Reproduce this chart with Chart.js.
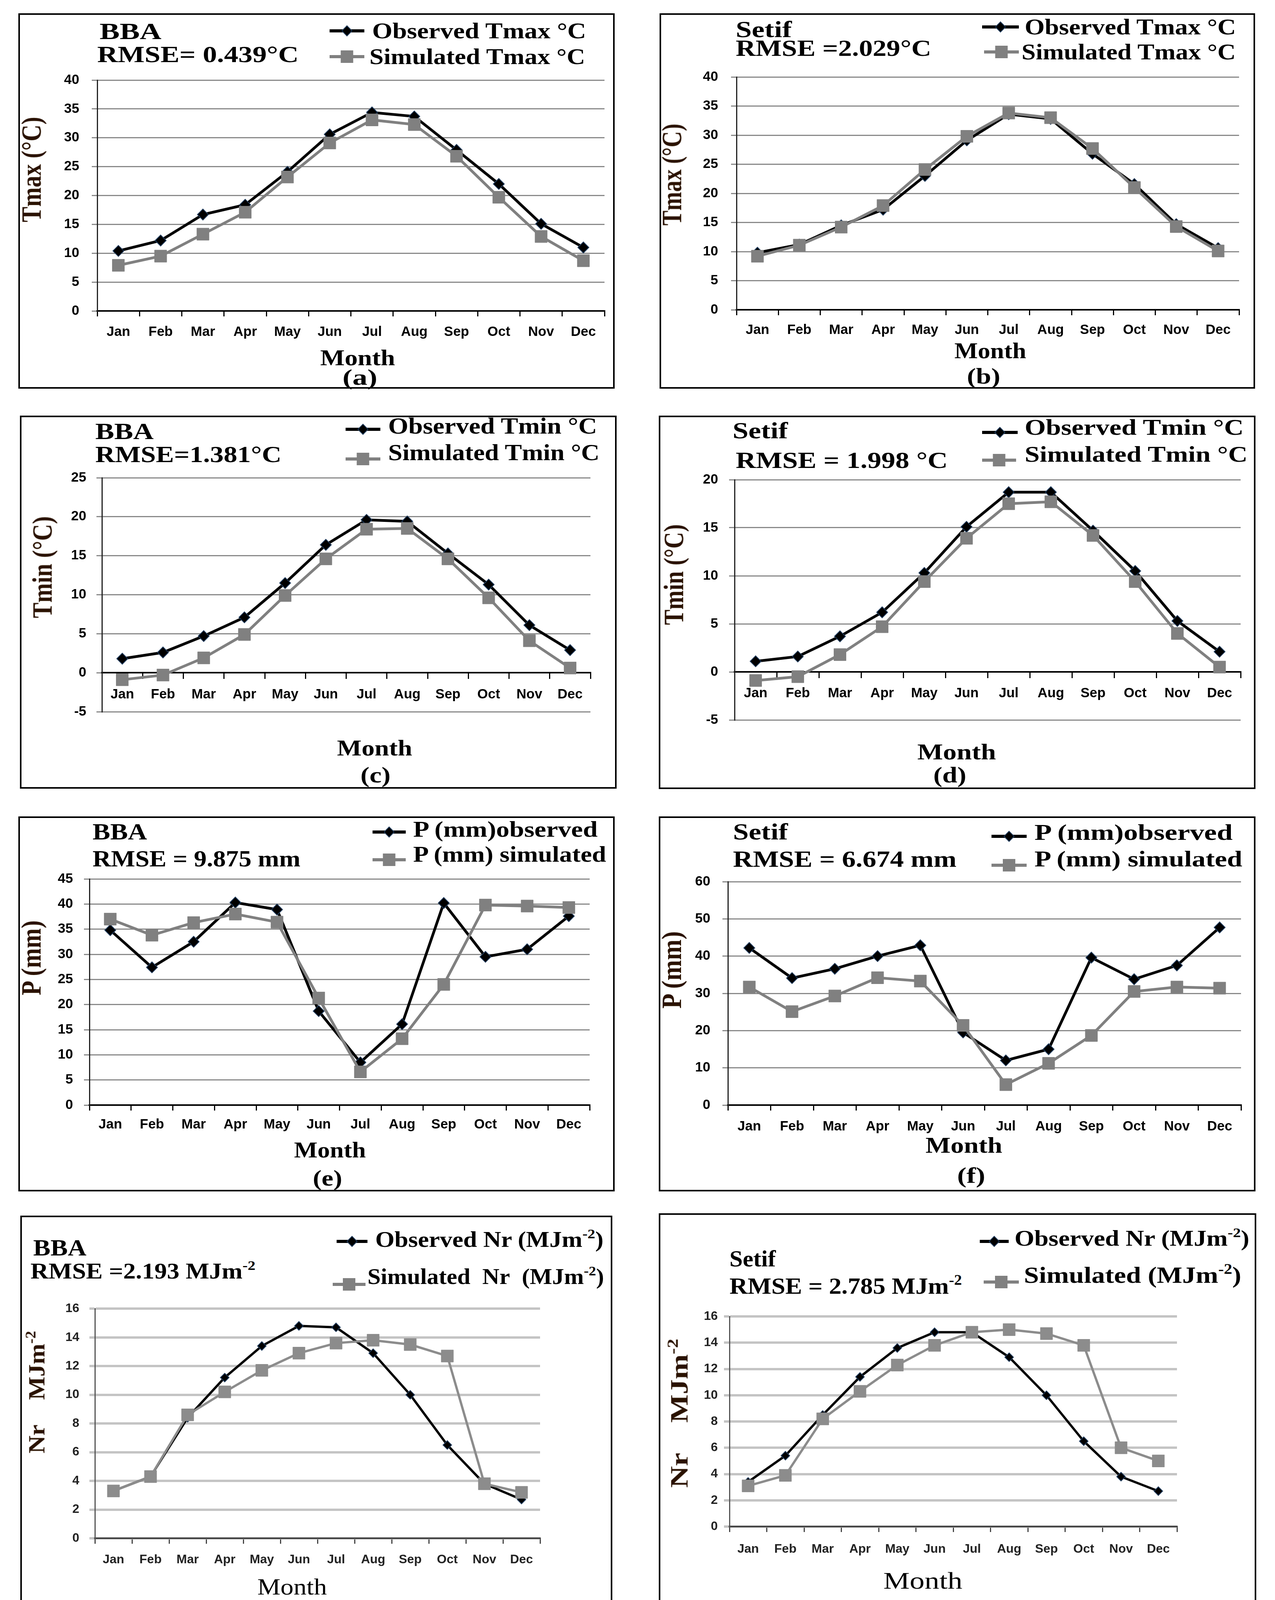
<!DOCTYPE html>
<html>
<head>
<meta charset="utf-8">
<title>Observed vs simulated Tmax, Tmin, P and Nr - BBA and Setif</title>
<script src="https://cdn.jsdelivr.net/npm/chart.js@4.4.1/dist/chart.umd.min.js"></script>
<style>
  html, body { margin: 0; padding: 0; background: #fff; }
  body { position: relative; width: 3265px; height: 4217px; overflow: hidden; }
  .panel { position: absolute; border: 4px solid #000; box-sizing: border-box; }
  .txt { position: absolute; white-space: nowrap; line-height: 1; color: #000;
         font-family: 'Liberation Serif', 'Times New Roman', serif; font-weight: bold; }
  .txt sup { font-size: 0.62em; vertical-align: baseline; position: relative; top: -0.62em; }
  canvas, svg { position: absolute; }
</style>
</head>
<body>
<script>
// month categories
const months = ['Jan', 'Feb', 'Mar', 'Apr', 'May', 'Jun', 'Jul', 'Aug', 'Sep', 'Oct', 'Nov', 'Dec'];

// (a) BBA Tmax
const bbaTmaxObs = [10.4, 12.2, 16.7, 18.4, 24.1, 30.6, 34.4, 33.7, 27.9, 22.0, 15.1, 11.0];
const bbaTmaxSim = [7.9, 9.5, 13.3, 17.1, 23.2, 29.1, 33.1, 32.3, 26.8, 19.7, 12.9, 8.7];
// (b) Setif Tmax
const setifTmaxObs = [9.8, 11.2, 14.5, 17.2, 23.0, 29.1, 33.6, 32.8, 26.8, 21.6, 14.7, 10.6];
const setifTmaxSim = [9.2, 11.1, 14.2, 17.9, 24.1, 29.8, 33.8, 33.0, 27.7, 21.0, 14.3, 10.1];
// (c) BBA Tmin
const bbaTminObs = [1.8, 2.6, 4.7, 7.1, 11.5, 16.4, 19.6, 19.4, 15.3, 11.3, 6.1, 2.9];
const bbaTminSim = [-0.9, -0.3, 1.9, 4.9, 9.9, 14.6, 18.4, 18.5, 14.6, 9.6, 4.1, 0.6];
// (d) Setif Tmin
const setifTminObs = [1.1, 1.6, 3.7, 6.2, 10.3, 15.1, 18.7, 18.7, 14.7, 10.5, 5.3, 2.1];
const setifTminSim = [-0.9, -0.5, 1.8, 4.7, 9.4, 13.9, 17.5, 17.7, 14.2, 9.4, 4.0, 0.5];
// (e) BBA precipitation
const bbaPObs = [34.8, 27.4, 32.5, 40.3, 38.9, 18.7, 8.5, 16.1, 40.2, 29.5, 31.0, 37.6];
const bbaPSim = [37.0, 33.8, 36.3, 38.0, 36.4, 21.3, 6.6, 13.2, 24.0, 39.8, 39.6, 39.3];
// (f) Setif precipitation
const setifPObs = [42.2, 34.1, 36.6, 40.0, 42.9, 19.5, 12.0, 15.0, 39.6, 33.8, 37.5, 47.7];
const setifPSim = [31.7, 25.1, 29.3, 34.2, 33.3, 21.4, 5.5, 11.2, 18.7, 30.5, 31.7, 31.4];
// (g) BBA net radiation
const bbaNrObs = [3.3, 4.3, 8.4, 11.2, 13.4, 14.8, 14.7, 12.9, 10.0, 6.5, 3.8, 2.7];
const bbaNrSim = [3.3, 4.3, 8.6, 10.2, 11.7, 12.9, 13.6, 13.8, 13.5, 12.7, 3.8, 3.2];
// (h) Setif net radiation
const setifNrObs = [3.4, 5.4, 8.5, 11.4, 13.6, 14.8, 14.8, 12.9, 10.0, 6.5, 3.8, 2.7];
const setifNrSim = [3.1, 3.9, 8.2, 10.3, 12.3, 13.8, 14.8, 15.0, 14.7, 13.8, 6.0, 5.0];

// y axis ranges: [min, max, step]
const tmaxRange = [0, 40, 5];
const bbaTminRange = [-5, 25, 5];
const setifTminRange = [-5, 20, 5];
const bbaPRange = [0, 45, 5];
const setifPRange = [0, 60, 10];
const nrRange = [0, 16, 2];

const GRAY = '#808080';
const NR_UNIT = 'MJm<sup>-2</sup>';

// layout of each panel (page pixels)
const panels = [
  { box: [47, 34, 1574, 995], plot: [249, 182, 1563, 796], range: tmaxRange, obs: bbaTmaxObs, sim: bbaTmaxSim,
    xlab: 54, ylab: 46,
    texts: [['BBA', 255, 80, 60, 158], ['RMSE= 0.439°C', 249, 139, 60, 516],
            ['Observed Tmax °C', 953, 79, 56, 548], ['Simulated Tmax °C', 946, 145, 56, 553]],
    centered: [['Month', 916, 916, 56, 192], ['(a)', 921, 966, 56, 89]],
    legend: [[844, 933, 79, 'obs'], [844, 933, 145, 'sim']],
    ytitle: ['Tmax (°C)', 80, 434, 72, 270] },
  { box: [1689, 34, 3214, 995], plot: [1886, 173, 3188, 793], range: tmaxRange, obs: setifTmaxObs, sim: setifTmaxSim,
    xlab: 52, ylab: 47,
    texts: [['Setif', 1884, 75, 60, 144], ['RMSE =2.029°C', 1884, 123, 60, 501],
            ['Observed Tmax °C', 2624, 69, 56, 541], ['Simulated Tmax °C', 2616, 133, 56, 549]],
    centered: [['Month', 2536, 898, 56, 184], ['(b)', 2518, 963, 56, 85]],
    legend: [[2515, 2609, 69, 'obs'], [2520, 2609, 133, 'sim']],
    ytitle: ['Tmax (°C)', 1720, 447, 72, 261] },
  { box: [51, 1064, 1579, 2019], plot: [261, 1206, 1527, 1861], range: bbaTminRange, obs: bbaTminObs, sim: bbaTminSim,
    xlab: 56, ylab: 40, zeroAxis: true,
    texts: [['BBA', 244, 1104, 60, 149], ['RMSE=1.381°C', 244, 1163, 60, 477],
            ['Observed Tmin °C', 994, 1090, 60, 535], ['Simulated Tmin °C', 994, 1158, 60, 541]],
    centered: [['Month', 959, 1915, 58, 193], ['(c)', 961, 1984, 56, 77]],
    legend: [[885, 974, 1099, 'obs'], [885, 974, 1175, 'sim']],
    ytitle: ['Tmin (°C)', 108, 1452, 72, 261] },
  { box: [1687, 1064, 3215, 2020], plot: [1881, 1209, 3192, 1884], range: setifTminRange, obs: setifTminObs, sim: setifTminSim,
    xlab: 55, ylab: 42, zeroAxis: true,
    texts: [['Setif', 1876, 1102, 60, 142], ['RMSE = 1.998 °C', 1884, 1178, 60, 543],
            ['Observed Tmin °C', 2624, 1094, 58, 561], ['Simulated Tmin °C', 2624, 1163, 58, 571]],
    centered: [['Month', 2450, 1925, 58, 202], ['(d)', 2432, 1984, 56, 84]],
    legend: [[2515, 2606, 1107, 'obs'], [2515, 2602, 1178, 'sim']],
    ytitle: ['Tmin (°C)', 1725, 1471, 72, 258] },
  { box: [47, 2090, 1574, 3050], plot: [229, 2231, 1525, 2829], range: bbaPRange, obs: bbaPObs, sim: bbaPSim,
    xlab: 50, ylab: 42,
    texts: [['BBA', 237, 2129, 60, 139], ['RMSE = 9.875 mm', 237, 2198, 60, 533],
            ['P (mm)observed', 1058, 2123, 58, 472], ['P (mm) simulated', 1058, 2187, 58, 494]],
    centered: [['Month', 845, 2944, 56, 184], ['(e)', 838, 3016, 56, 75]],
    legend: [[954, 1039, 2130, 'obs'], [954, 1039, 2201, 'sim']],
    ytitle: ['P (mm)', 80, 2452, 72, 192] },
  { box: [1687, 2090, 3215, 3050], plot: [1864, 2235, 3193, 2829], range: setifPRange, obs: setifPObs, sim: setifPSim,
    xlab: 55, ylab: 45,
    texts: [['Setif', 1877, 2129, 60, 141], ['RMSE = 6.674 mm', 1877, 2199, 60, 573],
            ['P (mm)observed', 2649, 2131, 58, 507], ['P (mm) simulated', 2649, 2199, 58, 532]],
    centered: [['Month', 2468, 2932, 58, 197], ['(f)', 2487, 3009, 56, 72]],
    legend: [[2539, 2629, 2141, 'obs'], [2539, 2629, 2215, 'sim']],
    ytitle: ['P (mm)', 1720, 2483, 72, 198] },
  { box: [52, 3112, 1568, 4168], plot: [243, 3335, 1398, 3938], range: nrRange, obs: bbaNrObs, sim: bbaNrSim,
    xlab: 55, ylab: 40, soft: true,
    texts: [['BBA', 85, 3194, 60, 136], ['RMSE =2.193 ' + NR_UNIT, 78, 3254, 56, 576],
            ['Observed Nr (' + NR_UNIT + ')', 961, 3173, 56, 584], ['Simulated&nbsp; Nr&nbsp; (' + NR_UNIT + ')', 941, 3268, 56, 606]],
    centered: [['Month', 748, 4062, 60, 178, 'normal'], ['(g)', 748, 4123, 56, 61, 'normal']],
    legend: [[862, 941, 3178, 'obs'], [852, 936, 3288, 'sim']],
    ytitle: ['Nr&nbsp;&nbsp;&nbsp; ' + NR_UNIT, 94, 3564, 60, 314] },
  { box: [1687, 3106, 3217, 4176], plot: [1868, 3365, 3029, 3908], range: nrRange, obs: setifNrObs, sim: setifNrSim,
    xlab: 58, ylab: 30, soft: true,
    texts: [['Setif', 1868, 3222, 60, 119], ['RMSE = 2.785 ' + NR_UNIT, 1868, 3292, 60, 595],
            ['Observed Nr (' + NR_UNIT + ')', 2598, 3170, 56, 601], ['Simulated (' + NR_UNIT + ')', 2622, 3264, 60, 557]],
    centered: [['Month', 2363, 4046, 62, 202, 'normal'], ['(h)', 2390, 4137, 56, 74, 'normal']],
    legend: [[2509, 2583, 3178, 'obs'], [2519, 2609, 3282, 'sim']],
    ytitle: ['Nr&nbsp;&nbsp;&nbsp; ' + NR_UNIT, 1739, 3618, 64, 381] }
];

function addText(t, x, y, size, width, opts) {
  opts = opts || {};
  const d = document.createElement('div');
  d.className = 'txt';
  d.innerHTML = t;
  d.style.fontSize = size + 'px';
  if (opts.weight) d.style.fontWeight = opts.weight;
  if (opts.color) d.style.color = opts.color;
  document.body.appendChild(d);
  const w = d.offsetWidth, h = d.offsetHeight;
  const sx = width / w;
  if (opts.rotate) {
    d.style.left = (x - w / 2) + 'px';
    d.style.top = (y - h / 2) + 'px';
    d.style.transform = 'rotate(-90deg) scaleX(' + sx + ')';
  } else {
    d.style.left = (opts.center ? x - width / 2 : x) + 'px';
    d.style.top = (y - h / 2) + 'px';
    d.style.transformOrigin = '0 50%';
    d.style.transform = 'scaleX(' + sx + ')';
  }
}

function legendIcon(x0, x1, y, kind) {
  const svg = document.createElementNS('http://www.w3.org/2000/svg', 'svg');
  const w = x1 - x0, h = 44, c = w / 2;
  svg.setAttribute('width', w);
  svg.setAttribute('height', h);
  svg.style.left = x0 + 'px';
  svg.style.top = (y - h / 2) + 'px';
  let s = '<line x1="0" y1="22" x2="' + w + '" y2="22" stroke="' + (kind === 'obs' ? '#000' : GRAY) + '" stroke-width="8"/>';
  if (kind === 'obs') {
    s += '<polygon points="' + c + ',9 ' + (c + 13) + ',22 ' + c + ',35 ' + (c - 13) + ',22" fill="#000" stroke="#1f3b5c" stroke-width="2"/>';
  } else {
    s += '<rect x="' + (c - 16) + '" y="6" width="32" height="32" fill="' + GRAY + '"/>';
  }
  svg.innerHTML = s;
  document.body.appendChild(svg);
}

function makeChart(p) {
  const [L, T, R, B] = p.plot;
  const YW = 130, PT = 30, PR = 8;
  const XH = p.zeroAxis ? 0 : 100, PB = p.zeroAxis ? 8 : 0;
  const tickSize = p.soft ? 32 : 35;
  const tl = 14;
  const cv = document.createElement('canvas');
  const cw = R + PR - (L - YW), ch = B + XH + PB - (T - PT);
  cv.width = cw;
  cv.height = ch;
  cv.style.left = (L - YW) + 'px';
  cv.style.top = (T - PT) + 'px';
  cv.style.width = cw + 'px';
  cv.style.height = ch + 'px';
  document.body.appendChild(cv);

  const tickFont = { family: "'Liberation Sans', Arial, sans-serif", size: tickSize, weight: 'bold' };
  const simGray = p.soft ? '#8c8c8c' : GRAY;

  new Chart(cv, {
    type: 'line',
    data: {
      labels: months,
      datasets: [
        { label: 'Observed', data: p.obs, order: 1,
          borderColor: '#000', borderWidth: p.soft ? 6 : 7, tension: 0,
          pointStyle: 'rectRot', pointRadius: p.soft ? 11 : 14,
          pointBackgroundColor: '#000', pointBorderColor: '#1f3b5c', pointBorderWidth: 2 },
        { label: 'Simulated', data: p.sim, order: 0,
          borderColor: simGray, borderWidth: p.soft ? 6 : 7, tension: 0,
          pointStyle: 'rect', pointRadius: 22,
          pointBackgroundColor: simGray, pointBorderColor: simGray, pointBorderWidth: 1 }
      ]
    },
    options: {
      responsive: false,
      animation: false,
      devicePixelRatio: 1,
      layout: { padding: { left: 0, top: PT, right: PR, bottom: PB } },
      plugins: { legend: { display: false }, tooltip: { enabled: false }, title: { display: false } },
      scales: {
        x: {
          type: 'category',
          offset: true,
          position: p.zeroAxis ? { y: 0 } : 'bottom',
          grid: { offset: true, drawOnChartArea: false, drawTicks: true, tickLength: tl,
                  color: p.soft ? '#444' : '#000', lineWidth: 3 },
          border: { color: p.soft ? '#444' : '#000', width: 4 },
          ticks: { font: tickFont, color: p.soft ? '#222' : '#000', padding: p.xlab - tl - tickSize * 0.6,
                   maxRotation: 0, autoSkip: false },
          afterFit: s => { if (!p.zeroAxis) s.height = XH; }
        },
        y: {
          min: p.range[0],
          max: p.range[1],
          ticks: { stepSize: p.range[2], font: tickFont, color: p.soft ? '#222' : '#000', padding: p.ylab - tl },
          grid: { color: p.soft ? '#c4c4c4' : '#8a8a8a', lineWidth: p.soft ? 6 : 3, tickLength: tl, drawTicks: true },
          border: { color: p.soft ? '#555' : '#222', width: 3 },
          afterFit: s => { s.width = YW; }
        }
      }
    }
  });
}

panels.forEach(p => {
  const b = document.createElement('div');
  b.className = 'panel';
  b.style.left = p.box[0] + 'px';
  b.style.top = p.box[1] + 'px';
  b.style.width = (p.box[2] - p.box[0]) + 'px';
  b.style.height = (p.box[3] - p.box[1]) + 'px';
  document.body.appendChild(b);

  makeChart(p);

  p.texts.forEach(t => addText(t[0], t[1], t[2], t[3], t[4]));
  p.centered.forEach(t => addText(t[0], t[1], t[2], t[3], t[4], { center: true, weight: t[5] }));
  p.legend.forEach(l => legendIcon(l[0], l[1], l[2], l[3]));
  const yt = p.ytitle;
  addText(yt[0], yt[1], yt[2], yt[3], yt[4], { rotate: true, color: '#2a1200' });
});
</script>
</body>
</html>
